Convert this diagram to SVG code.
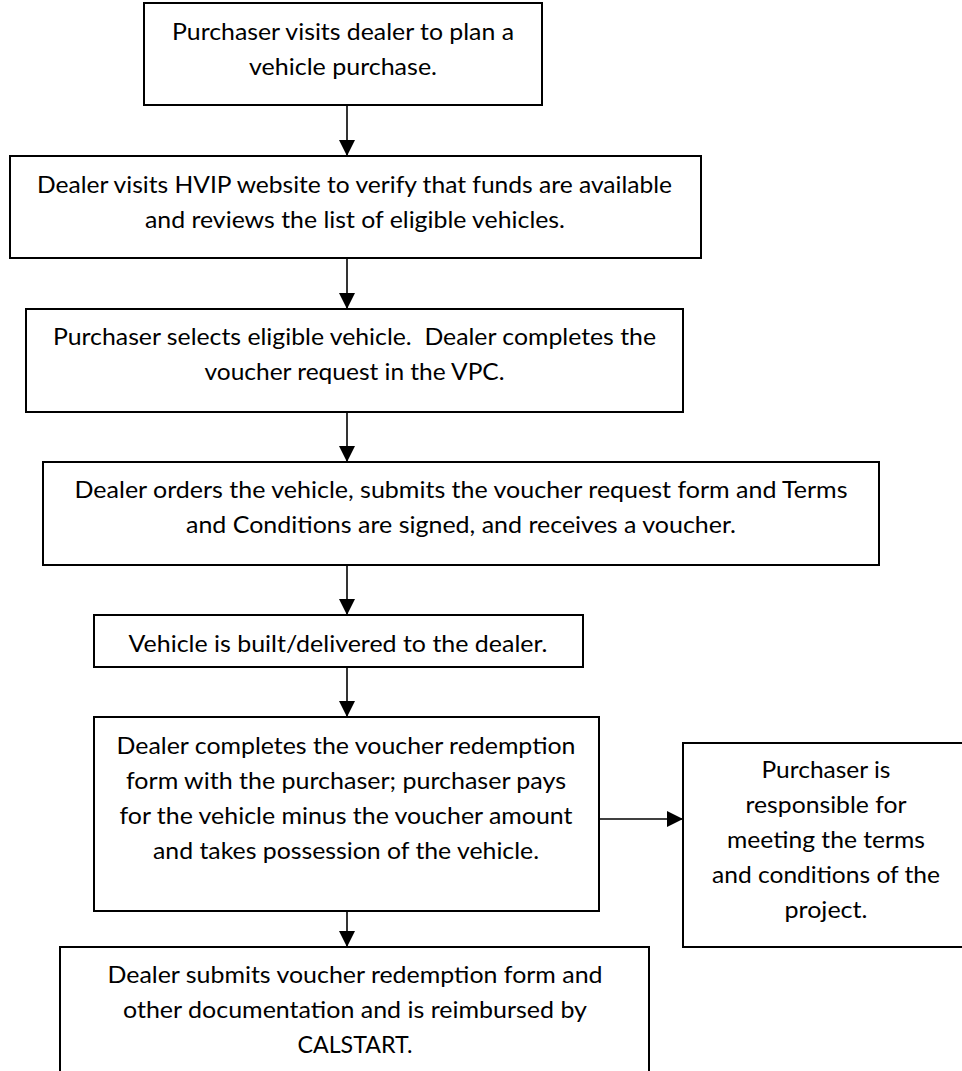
<svg xmlns="http://www.w3.org/2000/svg" width="962" height="1071" viewBox="0 0 962 1071">
<style>
.box{fill:#ffffff;stroke:#000000;stroke-width:2}
.t{font-family:Lato,"Liberation Sans",sans-serif;font-size:24px;fill:#000000;text-anchor:middle}
.c{stroke:#000000;stroke-width:1.6;fill:none}
</style>
<defs>
<marker id="ah" viewBox="0 0 16 16" refX="16" refY="8" markerWidth="16" markerHeight="16" markerUnits="userSpaceOnUse" orient="auto">
<path d="M0,0 L16,8 L0,16 Z" fill="#000000"/>
</marker>
</defs>
<rect width="962" height="1071" fill="#ffffff"/>
<g id="connectors">
<line class="c" x1="347" y1="105" x2="347" y2="156" marker-end="url(#ah)"/>
<line class="c" x1="347" y1="258" x2="347" y2="309" marker-end="url(#ah)"/>
<line class="c" x1="347" y1="412" x2="347" y2="462" marker-end="url(#ah)"/>
<line class="c" x1="347" y1="565" x2="347" y2="615" marker-end="url(#ah)"/>
<line class="c" x1="347" y1="667" x2="347" y2="717" marker-end="url(#ah)"/>
<line class="c" x1="347" y1="911" x2="347" y2="947" marker-end="url(#ah)"/>
<line class="c" x1="599" y1="819" x2="683" y2="819" marker-end="url(#ah)"/>
</g>
<g id="node1">
<rect class="box" x="144" y="3" width="398" height="102"/>
<text class="t" x="343" y="40" textLength="342" lengthAdjust="spacingAndGlyphs">Purchaser visits dealer to plan a</text>
<text class="t" x="343" y="75" textLength="188" lengthAdjust="spacingAndGlyphs">vehicle purchase.</text>
</g>
<g id="node2">
<rect class="box" x="10" y="156" width="691" height="102"/>
<text class="t" x="354.5" y="193" textLength="635" lengthAdjust="spacingAndGlyphs">Dealer visits HVIP website to verify that funds are available</text>
<text class="t" x="355" y="228" textLength="420" lengthAdjust="spacingAndGlyphs">and reviews the list of eligible vehicles.</text>
</g>
<g id="node3">
<rect class="box" x="26" y="309" width="657" height="103"/>
<text class="t" x="354.5" y="345" textLength="603" lengthAdjust="spacingAndGlyphs" xml:space="preserve">Purchaser selects eligible vehicle.  Dealer completes the</text>
<text class="t" x="354.5" y="380" textLength="300" lengthAdjust="spacingAndGlyphs">voucher request in the VPC.</text>
</g>
<g id="node4">
<rect class="box" x="43" y="462" width="836" height="103"/>
<text class="t" x="461" y="498" textLength="773" lengthAdjust="spacingAndGlyphs">Dealer orders the vehicle, submits the voucher request form and Terms</text>
<text class="t" x="461" y="533" textLength="550" lengthAdjust="spacingAndGlyphs">and Conditions are signed, and receives a voucher.</text>
</g>
<g id="node5">
<rect class="box" x="94" y="615" width="489" height="52"/>
<text class="t" x="338" y="652" textLength="419" lengthAdjust="spacingAndGlyphs">Vehicle is built/delivered to the dealer.</text>
</g>
<g id="node6">
<rect class="box" x="94" y="717" width="505" height="194"/>
<text class="t" x="346" y="754" textLength="459" lengthAdjust="spacingAndGlyphs">Dealer completes the voucher redemption</text>
<text class="t" x="346" y="789" textLength="440" lengthAdjust="spacingAndGlyphs">form with the purchaser; purchaser pays</text>
<text class="t" x="346" y="824" textLength="453" lengthAdjust="spacingAndGlyphs">for the vehicle minus the voucher amount</text>
<text class="t" x="346" y="859" textLength="386" lengthAdjust="spacingAndGlyphs">and takes possession of the vehicle.</text>
</g>
<g id="node7">
<rect class="box" x="683" y="743" width="287" height="204"/>
<text class="t" x="826" y="778" textLength="129" lengthAdjust="spacingAndGlyphs">Purchaser is</text>
<text class="t" x="826" y="813" textLength="161" lengthAdjust="spacingAndGlyphs">responsible for</text>
<text class="t" x="826" y="848" textLength="198" lengthAdjust="spacingAndGlyphs">meeting the terms</text>
<text class="t" x="826" y="883" textLength="228" lengthAdjust="spacingAndGlyphs">and conditions of the</text>
<text class="t" x="826" y="918" textLength="83" lengthAdjust="spacingAndGlyphs">project.</text>
</g>
<g id="node8">
<rect class="box" x="60" y="947" width="589" height="130"/>
<text class="t" x="355" y="983" textLength="495" lengthAdjust="spacingAndGlyphs">Dealer submits voucher redemption form and</text>
<text class="t" x="355" y="1018" textLength="464" lengthAdjust="spacingAndGlyphs">other documentation and is reimbursed by</text>
<text class="t" x="355" y="1053" textLength="115" lengthAdjust="spacingAndGlyphs">CALSTART.</text>
</g>
</svg>
